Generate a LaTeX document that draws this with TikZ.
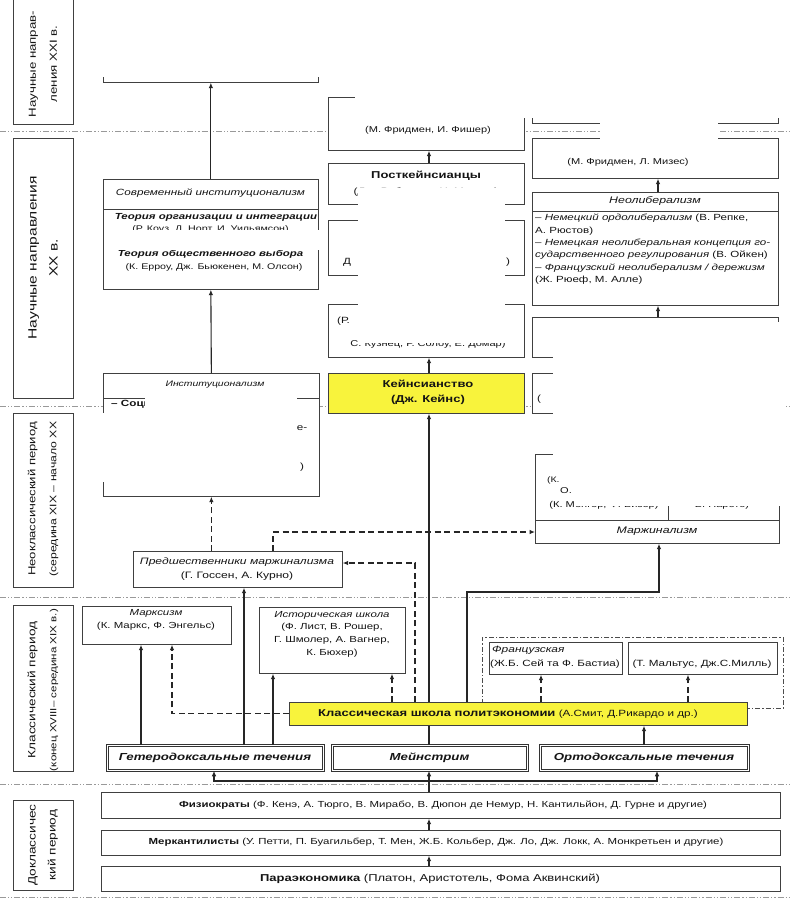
\documentclass[tikz,border=0pt]{standalone}
\usepackage{fontspec}
\setmainfont[FakeStretch=1.3]{Liberation Sans}
\usetikzlibrary{arrows.meta}
\definecolor{kyellow}{RGB}{248,243,60}
\newcommand{\Bx}[6][]{\node[box,#1,minimum width={(#4-#2)*1pt},minimum height={(#5-#3)*1pt}] (#6) at (#2,#3) {};}
\newcommand{\Fs}[2]{\fontsize{#1}{#2}\selectfont}
\begin{document}
\begin{tikzpicture}[x=1pt,y=-1pt,
  >={Latex[length=5.5pt,width=4.6pt]},
  box/.style={draw=black!75,line width=0.7pt,fill=white,inner sep=0pt,anchor=north west},
  tbox/.style={box,draw=black!80,line width=0.8pt,double=white,double distance=1pt},
  ybox/.style={box,fill=kyellow},
  hline/.style={draw=black!75,line width=0.7pt},
  tx/.style={inner sep=0pt,align=center,text=black!92,font=\Fs{9}{11}},
  ptxt/.style={tx,rotate=90},
  arr/.style={draw=black!85,line width=1.1pt,->},
  darr/.style={arr,dash pattern=on 6pt off 3.5pt},
  sep/.style={draw=black!40,line width=0.9pt,dash pattern=on 6pt off 2pt on 1.2pt off 2pt on 1.2pt off 2pt},
  frm/.style={box,fill=none,draw=black!70,line width=0.8pt,dash pattern=on 5pt off 2pt on 1.5pt off 2pt},
  patch/.style={fill=white}
]
\fill[white] (0,0) rectangle (790,905);
\useasboundingbox (0,0) rectangle (790,905);
\clip (0,0) rectangle (790,905);

% period separators
\foreach \yy/\nm in {131/sa,406/sb,597/sc,784/sd,897/se}{
  \coordinate (\nm L) at (0,\yy); \coordinate (\nm R) at (790,\yy);
  \draw[sep] (\nm L) -- (\nm R);}

% period boxes
\Bx{13}{-5}{73}{124}{p1}
\Bx{13}{138}{73}{398}{p2}
\Bx{13}{413}{73}{587}{p3}
\Bx{13}{605}{73}{771}{p4}
\Bx{13}{800}{73}{890}{p5}
\node[ptxt,font=\Fs{10.2}{21}] (p1t) at (43,64) {Научные направ-\\ления XXI в.};
\node[ptxt,font=\Fs{12}{21}] (p2t) at (43,258) {Научные направления\\XX в.};
\node[ptxt,font=\Fs{10.1}{21}] (p3t) at (43,499) {Неоклассический период\\{\Fs{9.4}{21}(середина XIX – начало XX}};
\node[ptxt,font=\Fs{10.5}{21}] (p4t) at (43,690) {Классический период\\{\Fs{8.9}{21}(конец XVIII– середина XIX в.)}};
\node[ptxt,font=\Fs{10.5}{20}] (p5t) at (43,845) {Доклассичес\\кий период};

% coordinates of lanes
\coordinate (xM) at (429,0);
\coordinate (xH1) at (141,0);
\coordinate (xH2) at (244,0);
\coordinate (xH3) at (273,0);
\coordinate (xC1) at (392,0);
\coordinate (xF) at (541,0);
\coordinate (xML) at (688,0);
\coordinate (xO) at (644,0);
\coordinate (xR) at (658,0);
\coordinate (lnA) at (273,532);
\coordinate (lnB) at (415,563);
\coordinate (lnC) at (172,715);
\coordinate (lnD) at (467,592);
\coordinate (lnE) at (659,592);
\coordinate (lnF) at (214,781);
\coordinate (lnG) at (657,781);

% boxes
\Bx{103}{30}{318}{82}{xxia}
\Bx{328}{97}{524}{150}{xxib}
\Bx{532}{60}{778}{123}{rzero}
\Bx{532}{138}{778}{178}{rone}
\Bx{103}{179}{318}{289}{modinst}
\Bx{328}{163}{524}{204}{pk}
\Bx{328}{220}{524}{275}{mtwo}
\Bx{532}{192}{778}{305}{neolib}
\Bx{328}{304}{524}{357}{mthree}
\Bx{532}{317}{778}{357}{rthree}
\Bx[ybox]{328}{373}{524}{413}{keynes}
\Bx{532}{373}{778}{413}{rfour}
\Bx{103}{373}{319}{496}{oldinst}
\Bx{535}{454}{779}{543}{marg}
\Bx{133}{551}{342}{587}{pred}
\Bx{82}{606}{231}{644}{marx}
\Bx{259}{607}{405}{673}{hist}
\Bx[frm]{482}{637}{783}{708}{frame}
\Bx{489}{642}{622}{674}{fr}
\Bx{628}{642}{777}{674}{mal}
\Bx[tbox]{107}{745}{323}{770}{hetero}
\Bx[tbox]{332}{745}{527}{770}{main}
\Bx[tbox]{540}{745}{748}{770}{ortho}
\draw[arr] (main.north -| xM) -- (keynes.south -| xM);
\Bx[ybox]{289}{702}{747}{725}{classic}
\Bx{101}{792}{780}{818}{phys}
\Bx{101}{830}{780}{855}{merc}
\Bx{101}{866}{780}{891}{para}

% inner rules
\draw[hline] ([yshift=-30pt]modinst.north west) -- ([yshift=-30pt]modinst.north east);
\draw[hline] ([yshift=-19pt]neolib.north west) -- ([yshift=-19pt]neolib.north east);
\draw[hline] ([yshift=-25pt]oldinst.north west) -- ([yshift=-25pt]oldinst.north east);
\draw[hline] ([yshift=23pt]marg.south west) -- ([yshift=23pt]marg.south east);
\draw[hline] ([xshift=133pt]marg.north west) -- ([xshift=133pt,yshift=23pt]marg.south west);

% texts
\node[tx,font=\Fs{8.5}{10}] (xxibt) at (428,130) {(М. Фридмен, И. Фишер)};
\node[tx,font=\Fs{8.5}{10}] (ronet) at (628,162) {(М. Фридмен, Л. Мизес)};
\node[tx,font=\Fs{9}{11}\itshape] (modh) at (210.5,193) {Современный институционализм};
\node[tx,font=\Fs{8.8}{11}\bfseries\itshape] (modla) at (216,217) {Теория организации и интеграции};
\node[tx,font=\Fs{8.2}{10}] (modlb) at (210.5,229) {(Р. Коуз, Д. Норт, И. Уильямсон)};
\node[tx,font=\Fs{8.8}{11}\bfseries\itshape] (modlc) at (210.5,254) {Теория общественного выбора};
\node[tx,font=\Fs{8.2}{10}] (modld) at (214,267) {(К. Ерроу, Дж. Бьюкенен, М. Олсон)};
\node[tx,font=\Fs{10}{12}\bfseries] (pkh) at (426,176) {Посткейнсианцы};
\node[tx] (pkn) at (426,192) {(Дж. Робинсон, Х. Мински)};
\node[tx] (mtwoa) at (347,262) {Д};
\node[tx] (mtwob) at (508,262) {)};
\node[tx,anchor=west] (mthreea) at (337,321) {(Р.};
\node[tx,font=\Fs{8.5}{10}] (mthreeb) at (428,344) {С. Кузнец, Р. Солоу, Е. Домар)};
\node[tx,font=\Fs{9.5}{11}\itshape] (neoh) at (655,201) {Неолиберализм};
\node[tx,anchor=north west,align=left,font=\Fs{8.9}{12.4}] (neob) at (535,214) {%
– \textit{Немецкий ордолиберализм} (В. Репке,\\
А. Рюстов)\\
– \textit{Немецкая неолиберальная концепция го-}\\
\textit{сударственного регулирования} (В. Ойкен)\\
– \textit{Французский неолиберализм / дережизм}\\
(Ж. Рюеф, М. Алле)};
\node[tx,font=\Fs{10}{15}\bfseries] (keyt) at (428,392) {Кейнсианство\\(Дж. Кейнс)};
\node[tx] (rfourt) at (539,399) {(};
\node[tx,font=\Fs{8}{10}\itshape] (oldh) at (215,385) {Институционализм};
\node[tx,anchor=west,font=\Fs{9}{11}\bfseries] (olda) at (111,404) {– Социальный};
\node[tx] (oldb) at (302,428) {е-};
\node[tx] (oldc) at (302,467) {)};
\node[tx,font=\Fs{9.5}{11}\itshape] (margh) at (657,531) {Маржинализм};
\node[tx,font=\Fs{8.5}{10}] (marga) at (604,505) {(К. Менгер, Ф. Визер)};
\node[tx,font=\Fs{8.5}{10}] (margb) at (722,505) {В. Парето)};
\node[tx,anchor=west,font=\Fs{8}{10}] (margc) at (547,480) {(К.};
\node[tx,font=\Fs{8.5}{10}] (margd) at (566,491) {О.};
\node[tx,font=\Fs{9.3}{14}] (predt) at (237,569) {\textit{Предшественники маржинализма}\\(Г. Госсен, А. Курно)};
\node[tx,font=\Fs{8.8}{13}] (marxt) at (156,620) {\textit{Марксизм}\\(К. Маркс, Ф. Энгельс)};
\node[tx,font=\Fs{8.8}{12.6}] (histt) at (332,634) {\textit{Историческая школа}\\(Ф. Лист, В. Рошер,\\Г. Шмолер, А. Вагнер,\\К. Бюхер)};
\node[tx,anchor=west,font=\Fs{9.2}{11}\itshape] (frh) at (492,650) {Французская};
\node[tx,font=\Fs{9}{10}] (frt) at (555,664) {(Ж.Б. Сей та Ф. Бастиа)};
\node[tx,font=\Fs{9}{10}] (malt) at (702,664) {(Т. Мальтус, Дж.С.Милль)};
\node[tx] (classt) at (508,713.5) {{\Fs{10}{11}\bfseries Классическая школа политэкономии} {\Fs{9}{10}(А.Смит, Д.Рикардо и др.)}};
\node[tx,font=\Fs{10.2}{11}\bfseries\itshape] (hett) at (215,757.5) {Гетеродоксальные течения};
\node[tx,font=\Fs{10.2}{11}\bfseries\itshape] (maint) at (429.5,757.5) {Мейнстрим};
\node[tx,font=\Fs{10.2}{11}\bfseries\itshape] (ortt) at (644,757.5) {Ортодоксальные течения};
\node[tx,font=\Fs{8.8}{10}] (physt) at (443,805) {\textbf{Физиократы} (Ф. Кенэ, А. Тюрго, В. Мирабо, В. Дюпон де Немур, Н. Кантильйон, Д. Гурне и другие)};
\node[tx,font=\Fs{8.8}{10}] (merct) at (436,842.5) {\textbf{Меркантилисты} (У. Петти, П. Буагильбер, Т. Мен, Ж.Б. Кольбер, Дж. Ло, Дж. Локк, А. Монкретьен и другие)};
\node[tx,font=\Fs{10}{12}] (parat) at (430,878.5) {\textbf{Параэкономика} (Платон, Аристотель, Фома Аквинский)};

% white patches (parts hidden in the reference)
\fill[patch] (95,-5) rectangle (790,77);
\fill[patch] (528,77) rectangle (790,117.5);
\fill[patch] (355,77) rectangle (530,118);
\fill[patch] (600,117) rectangle (718,150);
\fill[patch] (358,188) rectangle (505,343);
\fill[patch] (104,230) rectangle (326,250);
\fill[patch] (100,413) rectangle (297,482);
\fill[patch] (145,397) rectangle (297,413);
\fill[patch] (553,322) rectangle (786,472);
\fill[patch] (575,472) rectangle (786,506);

% connectors
\draw[arr] (modinst.north) -- (xxia.south);
\draw[arr] (oldinst.north) -- (modinst.south);
\draw[darr] (pred.north -| oldinst.south) -- (oldinst.south);
\draw[darr] (pred.north -| lnA) -- (lnA) -- (marg.west |- lnA);
\draw[darr] (classic.north -| lnB) -- (lnB) -- (pred.east |- lnB);
\draw[darr] (classic.north -| xC1) -- (hist.south -| xC1);
\draw[darr] (classic.west) -| (marx.south -| lnC);
\draw[arr] (classic.north -| lnD) -- (lnD) -- (lnE) -- (marg.south -| lnE);
\draw[darr] (classic.north -| xF) -- (fr.south -| xF);
\draw[darr] (classic.north -| xML) -- (mal.south -| xML);
\draw[arr] (ortho.north -| xO) -- (classic.south -| xO);
\draw[arr] (hetero.north -| xH1) -- (marx.south -| xH1);
\draw[arr] (hetero.north -| xH2) -- (pred.south -| xH2);
\draw[arr] (hetero.north -| xH3) -- (hist.south -| xH3);
\draw[arr] (phys.north -| xM) -- (main.south -| xM);
\draw[arr,<->] (hetero.south -| lnF) -- (lnF) -- (lnG) -- (ortho.south -| lnG);
\draw[arr] (merc.north -| xM) -- (phys.south -| xM);
\draw[arr] (para.north -| xM) -- (merc.south -| xM);
\draw[arr] (keynes.north -| xM) -- (mthree.south -| xM);
\draw[arr] (pk.north -| xM) -- (xxib.south -| xM);
\draw[arr] (neolib.north -| xR) -- (rone.south -| xR);
\draw[arr] (rthree.north -| xR) -- (neolib.south -| xR);
\end{tikzpicture}
\end{document}
